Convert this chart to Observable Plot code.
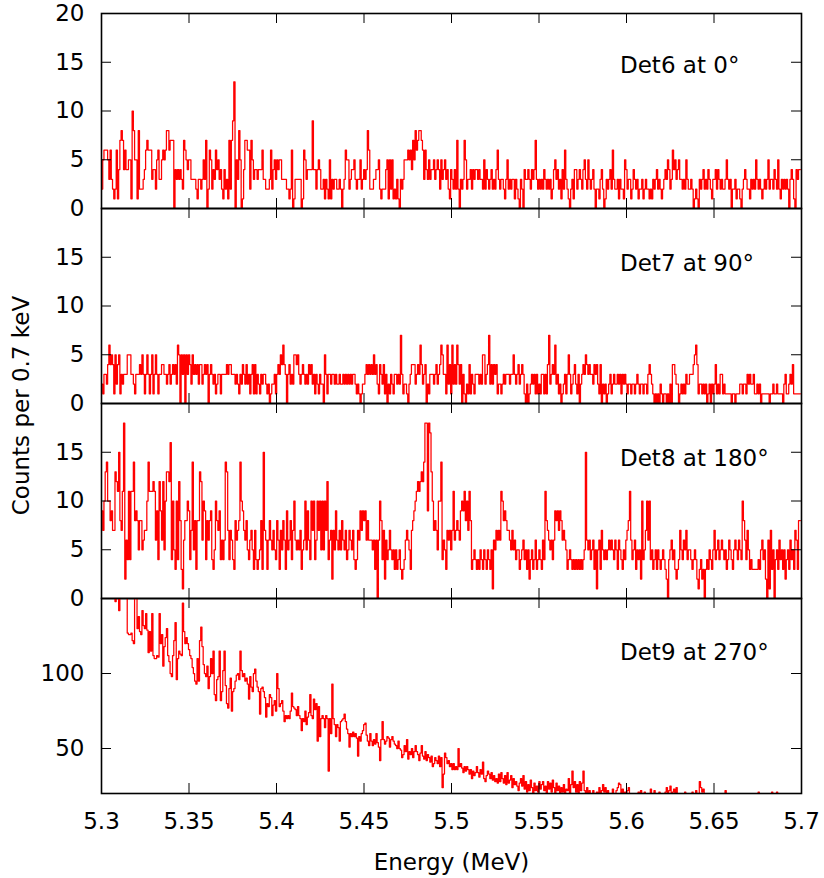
<!DOCTYPE html>
<html>
<head>
<meta charset="utf-8">
<script src="https://cdn.jsdelivr.net/npm/d3@7"></script>
<script src="https://cdn.jsdelivr.net/npm/@observablehq/plot@0.6"></script>
<style>
  body { margin: 0; background: #ffffff; }
  #chart { position: relative; width: 824px; height: 878px; }
  #chart svg { position: absolute; left: 0; top: 0; }
</style>
</head>
<body>
<div id="chart"></div>
<script>
// Histogram binning: 0.7 keV bins starting at 5.3 MeV
const binStart = 5.3;
const binWidth = 0.0007;

// Counts per bin, detector 6 (0°)
const det6 = [
  2,5,6,6,6,5,3,6,3,2,1,2,6,1,4,7,8,7,4,6,
  4,4,5,5,1,10,8,5,5,1,8,2,2,2,3,4,6,7,6,6,
  6,3,4,4,2,5,6,3,3,5,6,5,6,8,8,6,7,7,7,0,
  4,3,4,3,4,3,2,7,6,5,4,5,5,3,3,3,3,2,1,3,
  3,2,3,5,3,7,0,2,6,5,2,4,3,6,4,5,3,4,2,1,
  4,2,3,1,7,2,7,9,13,0,5,3,8,5,0,1,4,7,7,6,
  6,2,7,5,3,4,4,3,4,4,4,6,3,3,2,2,2,3,6,2,
  4,5,3,5,4,5,5,3,3,3,3,2,2,1,2,6,0,1,3,3,
  3,3,3,0,1,6,5,3,4,4,4,4,9,4,4,2,4,5,4,2,
  2,3,1,3,2,1,5,1,3,2,3,3,2,2,3,2,0,2,3,6,
  5,5,2,3,4,4,5,3,2,3,3,5,2,3,4,3,4,8,6,2,
  2,2,3,3,4,4,5,2,1,2,2,2,4,5,1,5,2,5,1,2,
  1,3,1,0,3,2,3,5,5,5,6,5,6,4,7,5,8,6,7,8,
  8,7,6,3,6,4,3,5,3,4,4,5,3,4,5,4,2,5,3,4,
  5,3,4,2,1,4,3,2,4,2,7,2,0,3,2,3,7,5,2,3,
  3,4,2,4,3,4,4,3,4,3,3,2,5,2,4,3,2,3,4,2,
  3,2,4,6,3,2,3,3,2,1,3,5,2,3,2,3,3,1,3,2,
  1,0,3,2,0,4,3,3,4,3,2,4,3,4,7,3,2,3,2,3,
  2,4,3,2,3,2,3,1,2,4,5,3,4,2,3,1,4,2,6,3,
  2,1,0,2,3,1,4,4,2,3,4,3,2,4,5,3,2,5,3,2,
  3,4,2,0,2,2,1,3,4,2,0,1,3,2,3,4,2,6,3,2,
  2,3,1,3,2,2,1,5,4,2,3,3,1,2,4,3,2,3,1,2,
  2,3,1,2,3,2,2,1,2,1,3,2,3,4,2,3,2,1,2,3,
  4,3,5,4,2,3,6,4,5,3,4,5,3,3,2,3,2,5,3,2,
  2,3,2,0,1,2,1,0,3,2,3,4,2,3,2,4,3,2,1,3,
  3,4,2,4,3,2,3,2,2,3,5,3,2,3,0,2,2,3,1,2,
  2,1,0,2,3,4,3,2,2,1,3,2,3,2,5,3,2,3,2,1,
  2,3,2,3,5,2,3,3,2,4,3,2,5,2,1,3,2,3,2,3,
  2,0,3,4,3,1,0,4,3,4,4
];

// Counts per bin, detector 7 (90°)
const det7 = [
  2,1,3,3,2,4,6,4,5,4,1,5,2,4,5,1,3,2,3,3,
  3,5,5,5,3,3,2,1,3,3,3,4,3,5,3,1,3,5,3,1,
  3,5,1,3,5,3,1,3,3,4,4,3,3,2,3,4,2,3,4,3,
  4,2,6,5,0,5,3,5,0,5,3,5,4,2,5,3,4,3,4,2,
  4,4,2,3,4,3,4,0,3,4,3,2,3,1,2,3,3,1,3,3,
  3,3,4,3,4,4,3,3,3,2,3,2,1,3,2,4,3,2,4,2,
  3,1,3,4,1,4,1,3,2,1,3,2,3,3,2,1,2,0,1,2,
  2,3,1,3,4,3,5,4,6,4,3,0,3,4,2,3,2,5,5,4,
  5,3,2,3,4,3,2,3,2,4,3,4,2,3,1,3,2,1,3,2,
  2,0,5,3,1,3,3,2,3,3,2,3,2,2,3,2,2,3,2,3,
  2,3,2,3,2,3,3,2,1,2,1,0,1,2,2,3,4,3,4,3,
  4,3,5,3,4,2,1,4,3,2,4,1,3,0,2,1,3,2,1,3,
  3,2,3,2,7,3,1,2,2,1,0,2,3,4,4,4,2,3,4,3,
  6,4,2,3,4,0,2,1,3,3,3,2,3,4,2,3,4,6,5,3,
  3,1,6,2,4,1,6,2,4,2,6,4,2,4,0,3,1,0,2,1,
  4,1,3,2,1,3,3,3,2,3,2,5,5,2,3,4,7,2,4,2,
  4,3,4,1,2,2,1,2,3,2,3,3,3,2,3,3,5,3,2,3,
  4,2,3,4,3,1,0,2,0,1,2,3,2,3,1,3,1,2,1,3,
  3,1,3,1,4,7,2,3,4,3,6,2,3,1,2,0,1,2,3,1,
  3,5,3,1,2,3,4,2,1,3,0,2,3,4,3,5,4,3,4,3,
  3,2,4,3,4,2,1,4,0,2,1,2,0,1,2,3,1,2,3,2,
  2,3,2,3,1,3,2,3,2,1,2,2,1,2,2,1,2,3,2,1,
  2,2,1,2,2,1,3,4,3,2,1,0,1,0,1,0,2,1,0,1,
  1,0,1,0,2,0,4,4,3,2,2,0,1,2,1,2,1,3,2,2,
  3,3,3,4,5,6,4,1,2,2,1,2,1,2,0,1,2,0,2,1,
  2,4,1,2,1,3,3,1,2,1,1,1,1,1,0,1,1,0,1,1,
  1,2,2,1,2,2,1,3,2,3,2,2,3,1,1,2,1,2,0,1,
  1,1,1,1,1,0,1,1,2,1,1,2,1,1,1,1,0,2,3,1,
  1,2,3,2,4,1,1,1,1,1,1
];

// Counts per bin, detector 8 (180°)
const det8 = [
  9,7,10,13,14,10,10,8,9,7,7,13,12,11,15,8,7,11,18,2,
  6,4,11,4,11,11,14,8,9,8,5,8,8,5,6,7,7,10,14,11,
  11,11,12,11,6,9,4,12,9,6,12,5,10,13,13,12,16,4,10,5,
  3,10,4,12,8,3,1,6,8,8,10,9,4,7,14,5,8,3,8,8,
  13,12,6,10,9,4,8,6,8,9,4,3,5,10,8,7,9,4,6,4,
  6,14,13,7,4,7,6,4,3,8,6,7,8,14,10,9,7,6,8,5,
  4,6,7,5,3,7,4,3,4,5,8,3,15,7,6,3,6,8,6,5,
  7,5,4,8,6,3,7,5,8,6,3,9,5,6,8,4,7,10,6,5,
  6,5,7,3,5,6,10,5,9,6,4,10,7,10,4,6,10,7,10,5,
  10,5,10,7,12,4,6,7,2,7,5,9,6,5,7,5,8,6,5,7,
  4,5,7,6,5,7,4,3,4,7,6,9,7,9,8,9,6,8,6,6,
  6,5,6,3,6,0,6,10,8,4,7,2,6,4,5,7,5,4,5,3,
  5,3,4,5,3,2,3,4,6,7,6,5,3,7,8,9,10,11,12,11,
  12,13,12,14,18,18,9,18,17,13,10,7,8,7,5,10,10,14,4,6,
  5,3,7,6,7,5,7,11,6,7,8,7,6,9,10,9,11,8,10,7,
  11,8,3,4,5,4,3,4,3,5,4,3,5,4,3,5,4,3,5,1,
  6,5,7,6,7,6,11,10,8,9,8,7,7,6,5,7,5,6,4,5,
  5,3,4,5,6,4,5,3,5,2,4,5,3,4,6,3,4,5,4,3,
  6,4,11,8,7,6,5,6,4,6,9,8,9,7,9,8,6,7,6,5,
  3,4,5,4,3,4,3,4,3,4,3,4,3,4,5,15,6,5,6,4,
  5,6,3,5,1,5,6,3,7,5,4,5,4,5,6,5,6,5,4,6,
  5,3,6,5,4,3,5,4,6,7,8,11,6,4,5,6,3,5,4,5,
  2,10,4,5,7,10,6,10,4,5,3,4,5,3,5,4,3,4,5,4,
  3,2,0,4,5,6,4,5,3,2,3,4,7,5,4,6,5,7,4,5,
  5,4,3,4,5,4,2,1,3,4,2,3,0,3,4,3,5,4,3,5,
  7,4,5,6,4,5,6,5,4,5,3,4,6,5,4,3,5,6,5,4,
  6,5,4,10,8,6,4,7,5,3,4,3,3,3,3,3,4,3,5,6,
  4,5,2,0,6,1,7,3,5,0,4,5,3,6,4,5,3,5,2,4,
  5,3,6,4,5,3,7,6,3,8,8
];

// Counts per bin, detector 9 (270°)
const det9 = [
  166,160,172,158,168,162,175,158,166,160,170,148,155,152,142,156,153,160,151,152,
  151,127,126,126,127,122,120,155,152,130,138,128,126,142,132,130,140,129,114,128,
  115,140,112,110,110,112,111,140,120,126,105,118,124,130,112,108,100,98,112,122,
  134,96,110,115,113,112,147,128,120,124,120,116,112,110,104,100,95,93,110,95,
  122,131,118,106,100,98,105,90,98,110,100,115,86,82,96,98,115,82,88,102,
  115,92,80,77,90,97,75,88,90,95,99,100,96,115,102,98,100,95,97,93,
  83,98,91,88,100,103,95,91,88,73,90,91,88,84,71,80,78,86,84,72,
  79,82,75,100,90,78,80,82,75,68,72,70,72,70,75,87,78,77,76,72,
  78,72,70,62,70,68,75,66,71,74,86,72,70,83,76,80,55,78,58,70,
  72,70,64,72,70,35,70,60,93,70,66,58,66,64,55,68,69,70,73,68,
  63,60,51,60,58,61,58,60,57,45,58,55,60,62,66,67,59,55,52,60,
  55,52,56,53,60,54,51,42,56,68,56,53,55,58,57,51,56,58,55,53,
  52,50,55,50,49,44,46,52,48,56,43,48,46,50,44,48,52,48,46,42,
  47,52,45,43,48,42,46,44,41,45,38,40,44,42,40,45,38,44,24,33,
  47,44,40,42,38,40,36,40,36,38,36,50,38,40,37,34,38,35,38,36,
  33,36,30,35,32,34,38,34,31,36,33,41,30,28,32,35,33,30,34,29,
  32,28,30,27,33,28,34,30,27,32,26,34,27,29,32,24,30,26,28,25,
  22,27,30,25,32,23,28,21,26,22,29,24,20,27,22,25,21,28,23,26,
  28,22,25,20,28,23,27,21,29,24,20,27,22,25,19,24,21,26,20,23,
  22,30,20,26,35,24,28,21,26,20,28,22,27,35,22,19,24,18,22,20,
  19,22,17,18,21,16,24,18,22,26,21,24,19,22,17,20,18,23,19,16,
  22,24,27,26,20,23,18,21,17,22,24,19,16,18,20,17,15,19,21,16,
  22,18,16,21,17,14,18,20,23,16,18,22,15,19,17,21,16,18,14,19,
  21,24,18,22,25,17,21,23,18,24,16,20,15,19,18,16,21,17,15,18,
  18,17,21,16,19,22,17,20,28,24,21,23,18,15,19,17,14,16,18,15,
  16,18,15,17,14,19,16,18,15,22,17,14,16,15,18,13,16,17,14,15,
  15,14,17,13,16,15,12,17,14,16,13,15,17,14,16,15,21,14,13,16,
  14,16,13,15,17,14,15,21,13,16,14,21,15,13,16,14,12,15,13,14,
  15,13,14,16,12,14,13,15,12,14,13
];

// Panel titles, y domains and tick values
const titles = ["Det6 at 0°", "Det7 at 90°", "Det8 at 180°", "Det9 at 270°"];
const series = [det6, det7, det8, det9];
const yDomains = [[0, 20], [0, 20], [0, 20], [20, 150]];
const yTickValues = [[0, 5, 10, 15, 20], [0, 5, 10, 15, 20], [0, 5, 10, 15, 20], [50, 100]];
const yTickLabels = [[0, 5, 10, 15, 20], [0, 5, 10, 15], [0, 5, 10, 15], [50, 100]];
const energyTicks = [5.3, 5.35, 5.4, 5.45, 5.5, 5.55, 5.6, 5.65, 5.7];
const energyDomain = [5.3, 5.7];

// Page layout
const W = 824, H = 878;
const left = 101, right = 801;
const panelTops = [13, 208, 403, 598];
const panelH = 195;
const titleBaselines = [59, 62, 62, 61];
const tickLen = 10;
const fontSize = 23;
const font = "'DejaVu Sans', 'Liberation Sans', sans-serif";

const chart = document.getElementById("chart");

series.forEach((counts, p) => {
  const rows = counts.map((c, i) => ({energy: binStart + (i + 0.5) * binWidth, count: c}));
  const top = panelTops[p];
  const frameW = right - left;
  const isLast = p === series.length - 1;

  const marks = [
    Plot.line(rows, {x: "energy", y: "count", curve: "step", stroke: "#ff0000", strokeWidth: 1.25, clip: true}),
    // inward ticks on all four sides
    Plot.ruleY(yTickValues[p], {stroke: "#000", strokeWidth: 1, insetRight: frameW - tickLen}),
    Plot.ruleY(yTickValues[p], {stroke: "#000", strokeWidth: 1, insetLeft: frameW - tickLen}),
    Plot.ruleX(energyTicks, {stroke: "#000", strokeWidth: 1, insetTop: panelH - tickLen}),
    Plot.ruleX(energyTicks, {stroke: "#000", strokeWidth: 1, insetBottom: panelH - tickLen}),
    Plot.frame({stroke: "#000", strokeWidth: 1.6}),
    Plot.axisY(yTickLabels[p], {anchor: "left", tickSize: 0, tickPadding: 17, fontSize, label: null, tickFormat: d => String(d)}),
    Plot.text([titles[p]], {
      text: d => d, frameAnchor: "top-left", dx: 518.5, dy: titleBaselines[p],
      textAnchor: "start", lineAnchor: "bottom", fontSize, fill: "#000"
    })
  ];

  if (isLast) {
    marks.push(
      Plot.axisX(energyTicks, {anchor: "bottom", tickSize: 0, tickPadding: 19, fontSize, label: null, tickFormat: d => String(+d.toFixed(2))}),
      Plot.text(["Energy (MeV)"], {text: d => d, frameAnchor: "bottom", dy: 76, textAnchor: "middle", lineAnchor: "bottom", fontSize, fill: "#000"})
    );
  }
  if (p === 1) {
    marks.push(
      Plot.text(["Counts per 0.7 keV"], {
        text: d => d, frameAnchor: "bottom-left", dx: -80, dy: 2, rotate: -90,
        textAnchor: "middle", lineAnchor: "middle", fontSize, fill: "#000"
      })
    );
  }

  const svg = Plot.plot({
    width: W,
    height: H,
    marginLeft: left,
    marginRight: W - right,
    marginTop: top,
    marginBottom: H - (top + panelH),
    x: {domain: energyDomain, axis: null},
    y: {domain: yDomains[p], axis: null},
    style: {fontFamily: font, fontSize: fontSize + "px", color: "#000", background: "transparent", overflow: "visible"},
    marks
  });
  chart.appendChild(svg);
});
</script>
</body>
</html>
